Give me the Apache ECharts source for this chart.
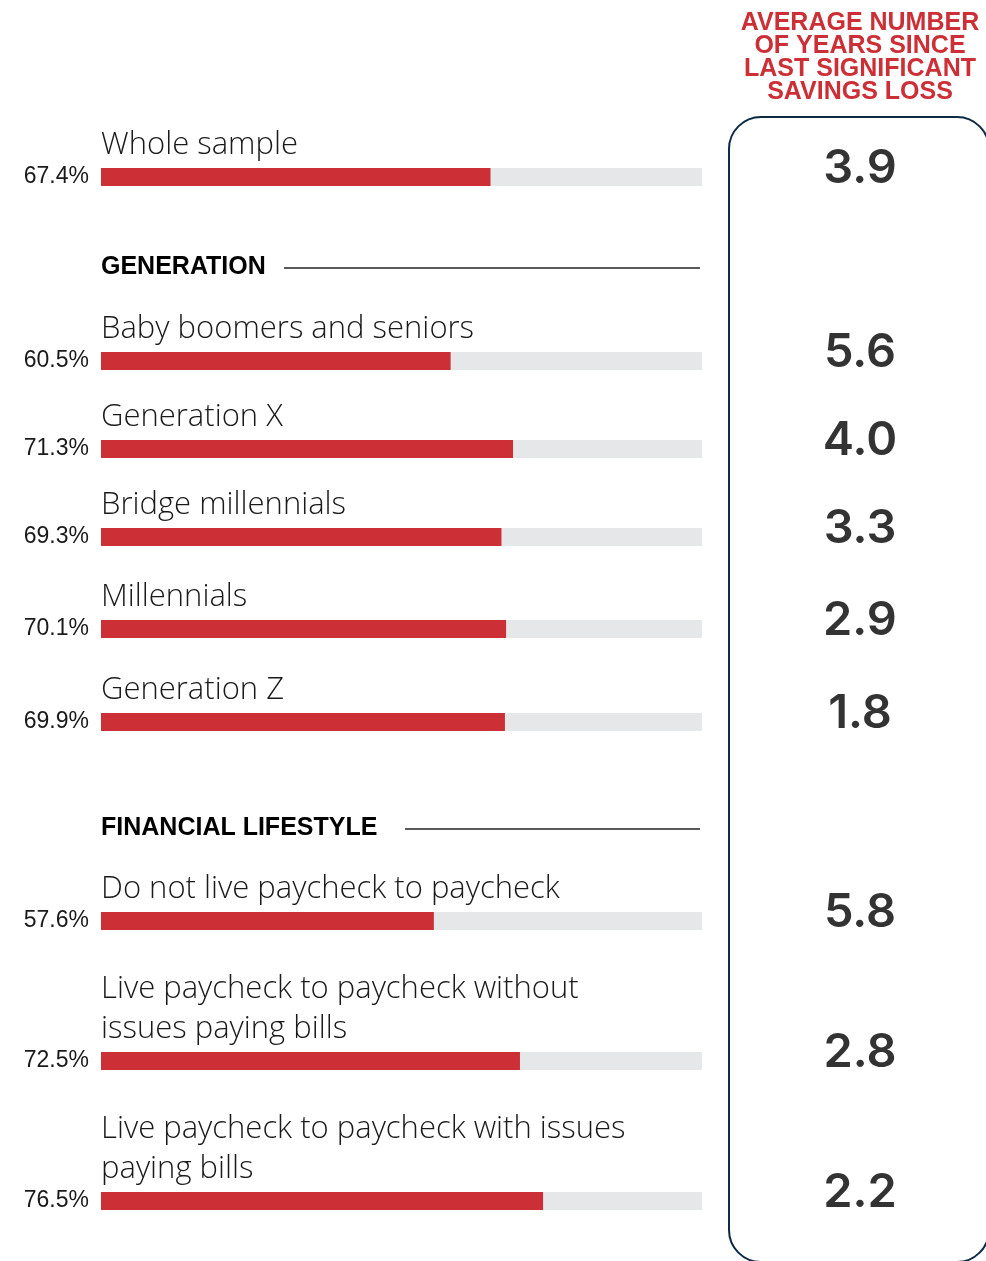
<!DOCTYPE html>
<html>
<head>
<meta charset="utf-8">
<script src="https://cdn.jsdelivr.net/npm/echarts@6/dist/echarts.min.js"></script>
<style>
  html, body { margin: 0; padding: 0; background: #fff; }
  #chart { width: 986px; height: 1261px; }
</style>
</head>
<body>
<div id="chart"></div>
<script>
// data
const categories = [
  'Whole sample',
  'Baby boomers and seniors',
  'Generation X',
  'Bridge millennials',
  'Millennials',
  'Generation Z',
  'Do not live paycheck to paycheck',
  'Live paycheck to paycheck without\nissues paying bills',
  'Live paycheck to paycheck with issues\npaying bills'
]
const lossShare = [67.4, 60.5, 71.3, 69.3, 70.1, 69.9, 57.6, 72.5, 76.5]
const yearsSince = [3.9, 5.6, 4.0, 3.3, 2.9, 1.8, 5.8, 2.8, 2.2]
const sectionHeaders = ['GENERATION', 'FINANCIAL LIFESTYLE']
const sideTitle = 'AVERAGE NUMBER\nOF YEARS SINCE\nLAST SIGNIFICANT\nSAVINGS LOSS'
const trackMax = 104

// layout (pixel row centres)
const rowCenters = [177, 361, 449, 537, 629, 722, 921, 1061, 1201]
const barH = 18
const RED = '#cc2f36'
const TRACK = '#e6e7e9'

const chart = echarts.init(document.getElementById('chart'))

const grids = [], xAxes = [], yAxes = [], series = []

categories.forEach((name, i) => {
  const top = rowCenters[i] - barH / 2
  // bar grid
  grids.push({ left: 101, width: 601, top, height: barH })
  xAxes.push({ type: 'value', gridIndex: 2 * i, min: 0, max: trackMax, show: false })
  yAxes.push({ type: 'category', gridIndex: 2 * i, data: [name], show: false })
  // number grid on the right
  grids.push({ left: 730, width: 260, top, height: barH })
  xAxes.push({ type: 'category', gridIndex: 2 * i + 1, data: [''], show: false })
  yAxes.push({ type: 'category', gridIndex: 2 * i + 1, data: [''], show: false })

  series.push({
    type: 'bar',
    xAxisIndex: 2 * i,
    yAxisIndex: 2 * i,
    data: [trackMax],
    barWidth: '100%',
    silent: true,
    itemStyle: { color: TRACK },
    label: {
      show: true,
      position: [0, -3],
      verticalAlign: 'bottom',
      align: 'left',
      formatter: () => name,
      fontFamily: 'Open Sans',
      fontWeight: 300,
      fontSize: 31,
      lineHeight: 40,
      color: '#1a1a1a'
    }
  })
  series.push({
    type: 'bar',
    xAxisIndex: 2 * i,
    yAxisIndex: 2 * i,
    data: [lossShare[i]],
    barWidth: '100%',
    barGap: '-100%',
    itemStyle: { color: RED },
    label: {
      show: true,
      position: 'left',
      distance: 12,
      formatter: p => p.value.toFixed(1) + '%',
      fontFamily: 'Liberation Sans',
      fontSize: 23,
      color: '#1a1a1a'
    }
  })
  series.push({
    type: 'scatter',
    xAxisIndex: 2 * i + 1,
    yAxisIndex: 2 * i + 1,
    data: [[0, 0]],
    symbolSize: 0,
    silent: true,
    label: {
      show: true,
      position: 'inside',
      offset: [2, -8],
      formatter: () => yearsSince[i].toFixed(1),
      fontFamily: 'Inter',
      fontWeight: 600,
      fontSize: 47,
      color: '#000'
    }
  })
})

const headerY = [267, 828]
const headerLineStart = [284, 405]

chart.setOption({
  animation: false,
  title: {
    text: sideTitle,
    left: 860,
    top: 12,
    padding: 0,
    textAlign: 'center',
    textStyle: {
      fontFamily: 'Liberation Sans',
      fontWeight: 'bold',
      fontSize: 25,
      lineHeight: 23,
      color: RED
    }
  },
  grid: grids,
  xAxis: xAxes,
  yAxis: yAxes,
  series,
  graphic: [
    {
      type: 'rect',
      shape: { x: 729, y: 117, width: 260, height: 1145, r: 32 },
      style: { fill: 'none', stroke: '#0e2a45', lineWidth: 2 },
      silent: true
    },
    ...sectionHeaders.flatMap((h, k) => [
      {
        type: 'text',
        x: 101,
        y: headerY[k],
        style: {
          text: h,
          fontFamily: 'Liberation Sans',
          fontWeight: 'bold',
          fontSize: 25,
          fill: '#000',
          verticalAlign: 'middle'
        }
      },
      {
        type: 'line',
        shape: { x1: headerLineStart[k], y1: headerY[k] + 1, x2: 700, y2: headerY[k] + 1 },
        style: { stroke: '#222', lineWidth: 1.5 }
      }
    ])
  ]
})
</script>
</body>
</html>
